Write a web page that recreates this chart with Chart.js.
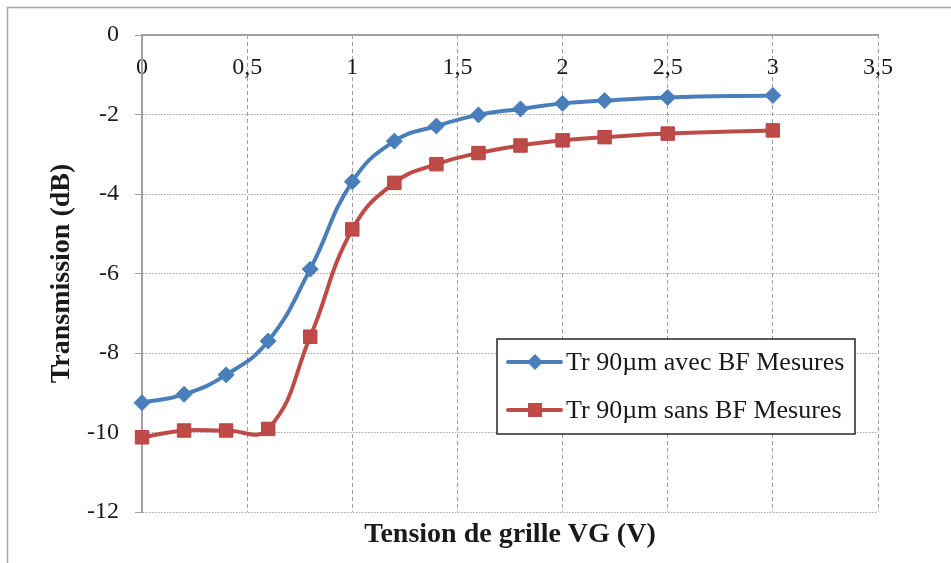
<!DOCTYPE html>
<html>
<head>
<meta charset="utf-8">
<script src="https://cdn.jsdelivr.net/npm/chart.js@4.4.1/dist/chart.umd.min.js"></script>
<style>
html, body { margin: 0; padding: 0; background: #fff; overflow: hidden; }
#wrap { width: 951px; height: 563px; }
</style>
</head>
<body>
<div id="wrap"><canvas id="transmissionChart"></canvas></div>
<script>
// Transmission vs tension de grille
const tensionVG = [0, 0.2, 0.4, 0.6, 0.8, 1, 1.2, 1.4, 1.6, 1.8, 2, 2.2, 2.5, 3];
const trAvecBF = [-9.25, -9.04, -8.55, -7.70, -5.89, -3.69, -2.67, -2.29, -2.01, -1.86, -1.72, -1.65, -1.57, -1.52];
const trSansBF = [-10.12, -9.95, -9.95, -9.91, -7.59, -4.89, -3.72, -3.25, -2.97, -2.78, -2.65, -2.57, -2.48, -2.40];
const seriesLabels = ['Tr 90\u00b5m avec BF Mesures', 'Tr 90\u00b5m sans BF Mesures'];
const xTickValues = [0, 0.5, 1, 1.5, 2, 2.5, 3, 3.5];
const yTickValues = [0, -2, -4, -6, -8, -10, -12];
const xTitle = 'Tension de grille VG (V)';
const yTitle = 'Transmission (dB)';

const BLUE = '#4a7ebb';
const RED = '#be4b48';
const GRID = '#a0a0a0';
const SERIF = "'Liberation Serif', 'Times New Roman', serif";

function toPoints(ys) {
    return tensionVG.map((x, i) => ({ x: x, y: ys[i] }));
}
function frNum(v) {
    return String(v).replace('.', ',');
}

// white background + outer frame
const frame = {
    id: 'frame',
    beforeDraw(chart) {
        const ctx = chart.ctx;
        ctx.save();
        ctx.fillStyle = '#fff';
        ctx.fillRect(0, 0, chart.width, chart.height);
        ctx.strokeStyle = '#a6a6a6';
        ctx.lineWidth = 1.5;
        ctx.strokeRect(7.5, 7.5, chart.width + 20, chart.height + 20);
        ctx.restore();
    }
};

// x title under the plot, legend box inside the plot
const extras = {
    id: 'extras',
    afterDraw(chart) {
        const ctx = chart.ctx;
        const area = chart.chartArea;
        ctx.save();
        ctx.fillStyle = '#1a1a1a';
        ctx.font = 'bold 28px ' + SERIF;
        ctx.textAlign = 'center';
        ctx.textBaseline = 'alphabetic';
        ctx.fillText(xTitle, (area.left + area.right) / 2, 542);

        const box = { x: 497, y: 339, w: 358, h: 95 };
        ctx.fillStyle = '#fff';
        ctx.fillRect(box.x, box.y, box.w, box.h);
        ctx.strokeStyle = '#262626';
        ctx.lineWidth = 1.5;
        ctx.strokeRect(box.x, box.y, box.w, box.h);

        chart.data.datasets.forEach((ds, i) => {
            const cy = box.y + 23 + i * 48;
            ctx.strokeStyle = ds.borderColor;
            ctx.lineWidth = 4;
            ctx.lineCap = 'round';
            ctx.beginPath();
            ctx.moveTo(box.x + 11, cy);
            ctx.lineTo(box.x + 64, cy);
            ctx.stroke();
            const mx = box.x + 38;
            ctx.fillStyle = ds.pointBackgroundColor;
            ctx.beginPath();
            if (ds.pointStyle === 'rectRot') {
                const r = 8;
                ctx.moveTo(mx, cy - r);
                ctx.lineTo(mx + r, cy);
                ctx.lineTo(mx, cy + r);
                ctx.lineTo(mx - r, cy);
                ctx.closePath();
            } else {
                ctx.rect(mx - 7, cy - 7, 14, 14);
            }
            ctx.fill();
            ctx.fillStyle = '#1a1a1a';
            ctx.font = '26px ' + SERIF;
            ctx.textAlign = 'left';
            ctx.textBaseline = 'middle';
            ctx.fillText(ds.label, box.x + 69, cy + 1);
        });
        ctx.restore();
    }
};

const ctx = document.getElementById('transmissionChart').getContext('2d');
const transmissionChart = new Chart(ctx, {
    type: 'line',
    data: {
        datasets: [{
            label: seriesLabels[0],
            data: toPoints(trAvecBF),
            borderColor: BLUE,
            backgroundColor: BLUE,
            borderWidth: 4,
            tension: 0.45,
            clip: false,
            pointStyle: 'rectRot',
            pointRadius: 8,
            pointBackgroundColor: BLUE,
            pointBorderColor: BLUE,
            pointBorderWidth: 1
        }, {
            label: seriesLabels[1],
            data: toPoints(trSansBF),
            borderColor: RED,
            backgroundColor: RED,
            borderWidth: 4,
            tension: 0.45,
            clip: false,
            pointStyle: 'rect',
            pointRadius: 9.5,
            pointBackgroundColor: RED,
            pointBorderColor: '#b8433f',
            pointBorderWidth: 1
        }]
    },
    options: {
        responsive: true,
        maintainAspectRatio: false,
        animation: false,
        layout: {
            padding: { left: 41, right: 73, top: 35, bottom: 51 }
        },
        plugins: {
            legend: { display: false },
            tooltip: { enabled: false }
        },
        scales: {
            x: {
                type: 'linear',
                position: { y: 0 },
                min: 0,
                max: 3.5,
                afterBuildTicks: function(scale) {
                    scale.ticks = xTickValues.map(v => ({ value: v }));
                },
                grid: {
                    color: GRID,
                    lineWidth: 1,
                    drawTicks: false
                },
                border: {
                    color: GRID,
                    width: 2,
                    dash: [4, 3]
                },
                ticks: {
                    padding: 18,
                    color: '#1a1a1a',
                    font: { family: SERIF, size: 24 },
                    maxRotation: 0,
                    callback: function(v) { return frNum(v); }
                }
            },
            y: {
                min: -12,
                max: 0,
                afterBuildTicks: function(scale) {
                    scale.ticks = yTickValues.map(v => ({ value: v }));
                },
                afterFit: function(scale) {
                    scale.width = 101;
                },
                grid: {
                    color: GRID,
                    lineWidth: 1,
                    tickLength: 7,
                    tickBorderDash: []
                },
                border: {
                    color: GRID,
                    width: 2,
                    dash: [1.5, 1.5]
                },
                ticks: {
                    padding: 16,
                    color: '#1a1a1a',
                    font: { family: SERIF, size: 24 },
                    callback: function(v) { return frNum(v); }
                },
                title: {
                    display: true,
                    text: yTitle,
                    color: '#1a1a1a',
                    font: { family: SERIF, size: 28, weight: 'bold' },
                    padding: { top: 4, bottom: 4 }
                }
            }
        }
    },
    plugins: [frame, extras]
});
</script>
</body>
</html>
